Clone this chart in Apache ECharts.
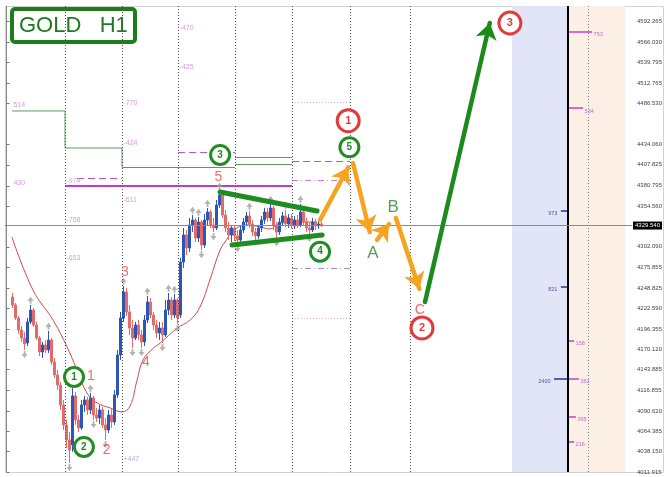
<!DOCTYPE html>
<html>
<head>
<meta charset="utf-8">
<title>GOLD H1</title>
<script src="https://cdn.jsdelivr.net/npm/echarts@6.0.0/dist/echarts.min.js"></script>
<style>
    html, body { margin: 0; padding: 0; background: #fff; }
    #chart { width: 670px; height: 477px; }
</style>
</head>
<body>
<div id="chart"></div>
<script>
'use strict';

// ---------- data ----------
var barCount = 209;     // hourly slots, history + empty area on the right
var firstBar = 2;       // slot of the first candle

// H1 candles: [open, close, low, high]
var candles = [
    [4237.5, 4227.2, 4223.3, 4242.6], [4227.2, 4210.4, 4207.8, 4229.8], [4210.4, 4194.9, 4189.8, 4213.0],
    [4194.9, 4184.6, 4179.5, 4200.1], [4184.6, 4176.9, 4169.2, 4192.4], [4178.2, 4205.3, 4174.3, 4210.4],
    [4205.3, 4220.7, 4202.7, 4227.2], [4220.7, 4201.4, 4198.8, 4223.3], [4201.4, 4184.6, 4182.0, 4205.3],
    [4184.6, 4166.6, 4161.4, 4187.2], [4166.6, 4175.6, 4158.9, 4179.5], [4175.6, 4169.2, 4165.3, 4182.0],
    [4169.2, 4182.0, 4165.3, 4193.6], [4182.0, 4153.7, 4149.9, 4184.6], [4153.7, 4137.0, 4133.1, 4158.9],
    [4137.0, 4124.1, 4117.6, 4143.4], [4124.1, 4098.3, 4091.9, 4128.0], [4098.3, 4072.6, 4066.1, 4104.8],
    [4072.6, 4053.2, 4042.9, 4079.0], [4053.2, 4040.3, 4023.6, 4063.5], [4046.8, 4110.0, 4038.0, 4120.0],
    [4110.0, 4079.0, 4072.6, 4115.0], [4079.0, 4068.7, 4063.5, 4085.4], [4068.7, 4098.3, 4066.1, 4104.8],
    [4098.3, 4104.8, 4089.3, 4110.0], [4104.8, 4091.9, 4085.4, 4108.6], [4091.9, 4107.4, 4086.7, 4113.8],
    [4107.4, 4085.4, 4079.0, 4110.0], [4085.4, 4081.6, 4076.4, 4094.5], [4081.6, 4091.9, 4073.9, 4098.3],
    [4091.9, 4072.6, 4068.7, 4095.7], [4072.6, 4066.1, 4053.2, 4081.6], [4066.1, 4085.4, 4062.2, 4091.9],
    [4085.4, 4076.4, 4068.7, 4094.5], [4076.4, 4111.2, 4072.6, 4117.6], [4111.2, 4162.7, 4107.4, 4169.2],
    [4162.7, 4210.4, 4156.3, 4218.2], [4210.4, 4243.9, 4205.3, 4251.6], [4243.9, 4218.2, 4213.0, 4249.1],
    [4218.2, 4197.5, 4188.5, 4227.2], [4197.5, 4184.6, 4171.8, 4207.8], [4184.6, 4201.4, 4182.0, 4205.3],
    [4201.4, 4188.5, 4182.0, 4207.8], [4188.5, 4179.5, 4171.8, 4194.9], [4179.5, 4207.8, 4174.3, 4214.3],
    [4207.8, 4231.0, 4203.9, 4238.8], [4231.0, 4214.3, 4210.4, 4236.2], [4214.3, 4201.4, 4194.9, 4218.2],
    [4201.4, 4191.1, 4184.6, 4207.8], [4191.1, 4197.5, 4182.0, 4205.3], [4197.5, 4188.5, 4178.2, 4205.3],
    [4188.5, 4220.7, 4186.0, 4233.6], [4220.7, 4233.6, 4214.3, 4242.6], [4233.6, 4214.3, 4207.8, 4237.5],
    [4214.3, 4233.6, 4210.4, 4241.4], [4233.6, 4210.4, 4202.7, 4236.2], [4214.3, 4282.6, 4210.4, 4287.7],
    [4282.6, 4317.4, 4274.9, 4326.4], [4317.4, 4300.6, 4291.6, 4323.8], [4300.6, 4330.3, 4295.5, 4339.3],
    [4330.3, 4336.7, 4321.2, 4343.1], [4336.7, 4313.5, 4308.3, 4339.3], [4313.5, 4334.1, 4308.3, 4340.6],
    [4334.1, 4304.5, 4298.0, 4336.7], [4304.5, 4336.7, 4300.6, 4344.4], [4336.7, 4347.0, 4330.3, 4352.2],
    [4347.0, 4330.3, 4326.4, 4349.6], [4330.3, 4326.4, 4321.2, 4339.3], [4326.4, 4356.0, 4323.8, 4362.5],
    [4356.0, 4368.9, 4352.2, 4374.1], [4368.9, 4343.1, 4339.3, 4371.5], [4343.1, 4326.4, 4321.2, 4349.6],
    [4326.4, 4317.4, 4310.9, 4334.1], [4317.4, 4326.4, 4308.3, 4330.3], [4326.4, 4316.1, 4309.6, 4330.3],
    [4316.1, 4310.9, 4305.8, 4323.8], [4310.9, 4323.8, 4308.3, 4329.0], [4323.8, 4334.1, 4320.0, 4339.3],
    [4334.1, 4341.9, 4330.3, 4347.0], [4341.9, 4331.6, 4326.4, 4348.3], [4331.6, 4321.2, 4316.1, 4336.7],
    [4321.2, 4316.1, 4310.9, 4326.4], [4316.1, 4326.4, 4312.2, 4330.3], [4326.4, 4336.7, 4321.2, 4341.9],
    [4336.7, 4347.0, 4331.6, 4352.2], [4347.0, 4339.3, 4334.1, 4352.2], [4339.3, 4352.2, 4335.4, 4357.3],
    [4352.2, 4330.3, 4323.8, 4354.7], [4330.3, 4321.2, 4313.5, 4334.1], [4321.2, 4334.1, 4317.4, 4339.3],
    [4334.1, 4341.9, 4329.0, 4347.0], [4341.9, 4331.6, 4327.7, 4349.6], [4331.6, 4339.3, 4326.4, 4344.4],
    [4339.3, 4329.0, 4325.1, 4344.4], [4329.0, 4336.7, 4325.1, 4341.9], [4336.7, 4330.3, 4326.4, 4343.1],
    [4330.3, 4347.0, 4327.7, 4357.3], [4347.0, 4334.1, 4329.0, 4350.9], [4334.1, 4326.4, 4321.2, 4339.3],
    [4326.4, 4323.8, 4318.7, 4334.1], [4323.8, 4334.1, 4321.2, 4339.3], [4334.1, 4329.0, 4323.8, 4338.0],
    [4329.0, 4331.6, 4325.1, 4336.7], [4331.6, 4329.54, 4327.7, 4334.1]
];
var lastPrice = 4329.54;

// price scale labels on the right
var priceTicks = [4592.265, 4566.030, 4539.795, 4512.765, 4486.530, 4434.060, 4407.825, 4380.795,
    4354.560, 4302.090, 4275.855, 4248.825, 4222.590, 4196.355, 4170.120, 4143.885, 4116.855,
    4090.620, 4064.385, 4038.150, 4011.915];

// moving average, [slot, price]
var maPoints = [[1.8, 4314.8], [8.8, 4246.5], [15.5, 4207.8], [20.2, 4173.0], [23.5, 4143.4],
    [26.8, 4113.8], [30.2, 4100.9], [34.5, 4094.5], [38.5, 4089.3], [41.2, 4097.0], [43.5, 4130.0],
    [45.5, 4156.3], [48.8, 4171.0], [51.2, 4178.0], [56.8, 4197.0], [61.2, 4207.8], [64.5, 4224.6],
    [67.8, 4259.4], [71.2, 4298.0], [73.5, 4312.0], [75.5, 4323.0], [80.2, 4330.3], [84.5, 4327.7],
    [87.8, 4325.1], [91.2, 4332.8], [98.8, 4334.1], [103.5, 4334.1]];

// fractal marks, by candle slot
var upFractals = [8, 14, 28, 39, 47, 54, 56, 62, 64, 67, 71, 81, 88, 93, 98];
var downFractals = [6, 21, 29, 33, 42, 45, 52, 57, 65, 69, 77, 90, 101];

// day separators (slot positions)
var daySeparators = [19.5, 38.5, 57.2, 76.2, 95.2, 114.5, 134.5];

// horizontal levels: [fromSlot, toSlot, price]
var greenStep = [[1.8, 4477.2], [19.5, 4477.2], [19.5, 4429.5], [38.5, 4429.5], [38.5, 4405.0]];
var greenLevels = [[76.2, 95.2, 4408.9]];
var magentaSolid = [[38.5, 76.2, 4405.0], [76.2, 95.2, 4417.9]];
var magentaThick = [[19.5, 95.2, 4380.5]];
var magentaDashed = [[23.5, 38.5, 4390.8], [57.2, 76.2, 4424.3], [95.2, 114.5, 4412.7]];
var pinkDashDot = [[95.2, 114.5, 4388.3]];
var lavenderDashDot = [[95.2, 114.5, 4274.9]];
var pinkDotted = [[95.2, 114.5, 4488.8], [95.2, 114.5, 4210.4]];

// level tags: [slot, price, text]
var levelTags = [[1.8, 4484.9, '514'], [38.5, 4487.5, '-770'], [38.5, 4436.0, '-424'],
    [57.2, 4584.1, '-470'], [57.2, 4533.9, '-425'], [19.5, 4387.0, '-974'], [1.8, 4384.4, '430'],
    [38.5, 4362.5, '-611'], [19.5, 4336.7, '-768'], [19.5, 4287.7, '-653']];
var blueTags = [[38.5, 4028.7, '+447']];

// triangle trend lines
var trendLines = [[[71.2, 4372.8], [103.5, 4348.3]], [[75.2, 4304.5], [105.2, 4317.4]]];

// forecast moves
var orangeMoves = [[[104.5, 4336.7], [113.9, 4404.5]], [[115.5, 4410.2], [121.1, 4321.0]],
    [[123.5, 4311.0], [127.5, 4331.5]], [[129.8, 4339.3], [137.6, 4248.0]]];
var greenMoves = [[[139.5, 4231.0], [161.1, 4590.5]]];

// wave marks: [slot, price, text]
var greenCircles = [[22.5, 4134.4, '1'], [25.8, 4044.2, '2'], [71.2, 4420.5, '3'],
    [104.5, 4295.9, '4'], [114.3, 4430.4, '5']];
var redCircles = [[113.9, 4464.7, '1'], [138.5, 4197.6, '2'], [167.8, 4590.6, '3']];
var greenLetters = [[122.1, 4294.2, 'A'], [128.9, 4353.5, 'B']];
var redLetters = [[137.8, 4220.8, 'C']];
var redNumbers = [[70.6, 4392.2, '5'], [39.5, 4269.7, '3'], [46.5, 4153.8, '4'],
    [28.1, 4134.8, '1'], [33.4, 4040.3, '2']];

// right hand profile panel
var panelStart = 168.5, panelSplit = 187.2, panelEnd = 206.2, panelDots = 193.8;
var sellTicks = [[195.2, 4579.0, '753'], [192.2, 4481.0, '534'], [189.2, 4180.8, '158'],
    [190.8, 4131.8, '382'], [189.8, 4082.9, '395'], [189.2, 4050.6, '216']];
var buyTicks = [[184.8, 4348.3, '973'], [184.8, 4250.4, '821'], [182.5, 4131.8, '2400']];

// ---------- chart ----------
var chart = echarts.init(document.getElementById('chart'));
var font = 'Liberation Sans';

var categories = [];
for (var i = 0; i < barCount; i++) {
    categories.push(i);
}

var candleData = candles.map(function (c, k) {
    return [firstBar + k].concat(c);
});

function named(list) {
    return list.map(function (t) {
        return { value: [t[0], t[1]], name: t[2] };
    });
}

function segs(list) {
    return list.map(function (s) {
        return { coords: [[s[0], s[2]], [s[1], s[2]]] };
    });
}

function linesSeries(data, color, type, width, z) {
    return {
        type: 'lines',
        coordinateSystem: 'cartesian2d',
        xAxisIndex: 1,
        yAxisIndex: 0,
        data: data,
        symbol: 'none',
        silent: true,
        lineStyle: { color: color, type: type, width: width, opacity: 1, curveness: 0 },
        z: z || 3
    };
}

function tagSeries(list, color, size, pos, offset, weight) {
    return {
        type: 'scatter',
        xAxisIndex: 1,
        data: named(list),
        symbolSize: 1,
        silent: true,
        itemStyle: { color: 'rgba(0,0,0,0)' },
        label: {
            show: true, position: pos || 'right', distance: 1, offset: offset || [0, 0],
            formatter: '{b}', color: color, fontSize: size, fontFamily: font,
            fontWeight: weight || 'normal'
        },
        z: 6
    };
}

function circleSeries(list, color, size, fontSize) {
    return {
        type: 'scatter',
        xAxisIndex: 1,
        data: named(list),
        symbol: 'circle',
        symbolSize: size,
        silent: true,
        itemStyle: { color: '#fff', borderColor: color, borderWidth: 3, opacity: 1 },
        label: {
            show: true, position: 'inside', formatter: '{b}', color: color,
            fontSize: fontSize, fontWeight: 'bold', fontFamily: font
        },
        z: 9
    };
}

function moveSeries(list, color) {
    var s = linesSeries(list.map(function (m) { return { coords: m }; }), color, 'solid', 4.5, 8);
    s.symbol = ['none', 'arrow'];
    s.symbolSize = 16;
    s.lineStyle.cap = 'round';
    return s;
}

var fractalPath = 'path://M5,0L10,6L6.5,6L6.5,10L3.5,10L3.5,6L0,6Z';
var upData = upFractals.map(function (b) { return [b, candles[b - firstBar][3] + 6]; });
var downData = downFractals.map(function (b) { return [b, candles[b - firstBar][2] - 6]; });

var sellSegs = sellTicks.map(function (t) { return [panelSplit + 0.3, t[0], t[1]]; });
var buySegs = buyTicks.map(function (t) { return [t[0], panelSplit, t[1]]; });

var option = {
    animation: false,
    backgroundColor: '#fff',
    title: {
        text: 'GOLD   H1',
        left: 12,
        top: 9,
        z: 0,
        padding: [6, 7, 5, 7],
        backgroundColor: '#fff',
        borderColor: '#1b7d1b',
        borderWidth: 4,
        borderRadius: 3,
        textStyle: { color: '#1f7a1f', fontSize: 22, fontWeight: 'normal', fontFamily: font }
    },
    grid: { left: 5, right: 38, top: 6, bottom: 5, show: false },
    xAxis: [{
        type: 'category',
        data: categories,
        boundaryGap: true,
        show: false
    }, {
        type: 'value',
        min: -0.5,
        max: barCount - 0.5,
        show: false
    }],
    yAxis: {
        type: 'value',
        position: 'right',
        min: 4011.9,
        max: 4612.47,
        splitLine: { show: false },
        axisLine: { show: true, lineStyle: { color: '#8a8a8a', width: 1 } },
        axisTick: { show: true, length: 3, customValues: priceTicks, lineStyle: { color: '#777' } },
        axisLabel: {
            customValues: priceTicks,
            formatter: function (v) { return v.toFixed(3); },
            fontSize: 6, color: '#444', margin: 5, fontFamily: font
        }
    },
    graphic: [
        { type: 'rect', silent: true, z: -10, shape: { x: 5.5, y: 6.5, width: 658, height: 466 },
          style: { fill: 'none', stroke: '#d2d2d2', lineWidth: 1 } },
        { type: 'rect', silent: true, shape: { x: 570.5, y: 462.5, width: 42, height: 8 },
          style: { fill: '#fff', stroke: '#777', lineWidth: 1 } },
        { type: 'text', silent: true, x: 575, y: 463.5,
          style: { text: 'History  L', fontSize: 6, fill: '#333', fontFamily: font } },
        { type: 'rect', silent: true, shape: { x: 614.5, y: 462.5, width: 10, height: 8 },
          style: { fill: '#fff', stroke: '#777', lineWidth: 1 } },
        { type: 'text', silent: true, x: 616, y: 463.5,
          style: { text: 'AT', fontSize: 6, fill: '#333', fontFamily: font } }
    ],
    series: [
        // moving average + panel background + day separators
        {
            type: 'line',
            xAxisIndex: 1,
            data: maPoints,
            smooth: 0.4,
            showSymbol: false,
            silent: true,
            lineStyle: { color: '#d24a4a', width: 1 },
            z: 1,
            markArea: {
                silent: true,
                data: [
                    [{ xAxis: panelStart, itemStyle: { color: '#e2e4f8' } }, { xAxis: panelSplit }],
                    [{ xAxis: panelSplit, itemStyle: { color: '#fbefe6' } }, { xAxis: panelEnd }]
                ]
            },
            markLine: {
                silent: true,
                symbol: 'none',
                label: { show: false },
                lineStyle: { color: '#555', type: [1, 2], width: 1 },
                data: daySeparators.map(function (x) { return { xAxis: x }; })
                    .concat([{ xAxis: panelDots, lineStyle: { color: '#888', type: [1, 2] } },
                             { xAxis: panelSplit, lineStyle: { color: '#000', type: 'solid', width: 2 } }])
            }
        },
        // candles
        {
            type: 'candlestick',
            data: candleData,
            encode: { x: 0, y: [1, 2, 3, 4] },
            barWidth: 2,
            silent: true,
            itemStyle: {
                color: '#2b56b8', color0: '#e46a6a',
                borderColor: '#2b56b8', borderColor0: '#e46a6a', borderWidth: 1
            },
            z: 2,
            markLine: {
                silent: true,
                symbol: 'none',
                lineStyle: { color: '#8a8a8a', type: 'solid', width: 1 },
                label: {
                    show: true, position: 'end', distance: 1,
                    formatter: function () { return lastPrice.toFixed(3); },
                    backgroundColor: '#000', color: '#fff', fontSize: 6, padding: [1, 2], fontFamily: font
                },
                data: [{ yAxis: lastPrice }]
            }
        },
        // fractals
        {
            type: 'scatter', xAxisIndex: 1, data: upData, symbol: fractalPath, symbolSize: [6, 7],
            silent: true, itemStyle: { color: '#9d9d9d' }, z: 3
        },
        {
            type: 'scatter', xAxisIndex: 1, data: downData, symbol: fractalPath, symbolSize: [6, 7],
            symbolRotate: 180, silent: true, itemStyle: { color: '#9d9d9d' }, z: 3
        },
        // levels
        {
            type: 'line', xAxisIndex: 1, data: greenStep, showSymbol: false, silent: true,
            lineStyle: { color: '#5e9a5e', width: 1 }, z: 3
        },
        linesSeries(segs(greenLevels), '#5e9a5e', 'solid', 1),
        linesSeries(segs(magentaSolid), '#c54fc5', 'solid', 1),
        linesSeries(segs(magentaThick), '#c23bc2', 'solid', 2),
        linesSeries(segs(magentaDashed), '#c54fc5', [7, 4], 1),
        linesSeries(segs(pinkDashDot), '#d77ad7', [6, 3, 1, 3], 1),
        linesSeries(segs(lavenderDashDot), '#9a8fd0', [6, 3, 1, 3], 1),
        linesSeries(segs(pinkDotted), '#e0a6e0', [1, 2], 1),
        // panel ticks
        linesSeries(segs(sellSegs), '#c83cc8', 'solid', 1.5, 4),
        linesSeries(segs(buySegs), '#2a2e8a', 'solid', 1.5, 4),
        tagSeries(sellTicks, '#c048c0', 5.5, 'right', [0, 3]),
        tagSeries(buyTicks, '#2a2e8a', 5.5, 'left', [-2, 3]),
        // level tags
        tagSeries(levelTags, '#cf7fcf', 7, 'right'),
        tagSeries(blueTags, '#8c9ad6', 7, 'right'),
        // triangle
        (function () {
            var s = linesSeries(trendLines.map(function (m) { return { coords: m }; }), '#1f8c1f', 'solid', 5, 7);
            s.lineStyle.cap = 'round';
            return s;
        })(),
        // forecast
        moveSeries(orangeMoves, '#f5a321'),
        moveSeries(greenMoves, '#1c8a1c'),
        // wave marks
        circleSeries(greenCircles, '#228b22', 19, 10),
        circleSeries(redCircles, '#e23b3b', 22, 11),
        tagSeries(greenLetters, '#248a24', 17, 'inside'),
        tagSeries(redLetters, '#e04848', 14, 'inside'),
        tagSeries(redNumbers, '#e84848', 14, 'inside')
    ]
};

chart.setOption(option);
</script>
</body>
</html>
